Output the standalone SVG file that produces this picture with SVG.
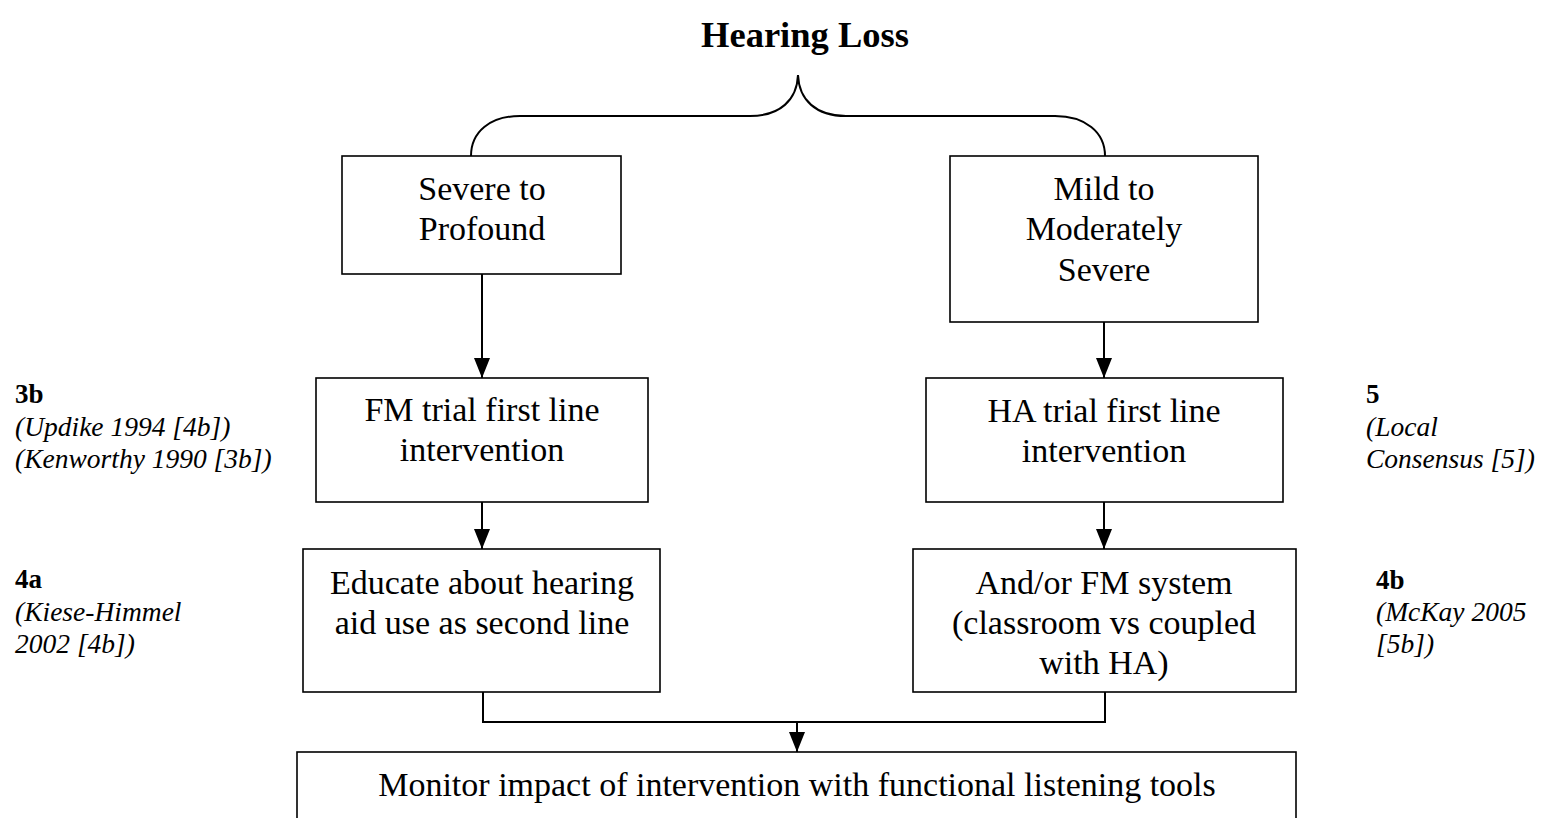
<svg xmlns="http://www.w3.org/2000/svg" width="1544" height="818" viewBox="0 0 1544 818">
<style>
.box{fill:#fff;stroke:#000;stroke-width:1.6}
.t{font-family:"Liberation Serif","Times New Roman",serif;font-size:34px;fill:#000;text-anchor:middle}
.title{font-family:"Liberation Serif","Times New Roman",serif;font-size:36.5px;font-weight:bold;fill:#000;text-anchor:middle}
.lv{font-family:"Liberation Serif","Times New Roman",serif;font-size:27px;font-weight:bold;fill:#000}
.ref{font-family:"Liberation Serif","Times New Roman",serif;font-size:27.5px;font-style:italic;fill:#000}
.ln{fill:none;stroke:#000;stroke-width:2}
</style>
<defs>
<marker id="arr" markerWidth="20" markerHeight="18" refX="20" refY="9" orient="auto" markerUnits="userSpaceOnUse" viewBox="0 0 20 18">
<path d="M0,1 L20,9 L0,17 Z" fill="#000"/>
</marker>
</defs>
<text class="title" x="805" y="47">Hearing Loss</text>
<g id="connectors">
<path class="ln" d="M471,156 C471,132 490,116 520,116 L750,116 C780,116 797,100 798,75 C799,100 816,116 846,116 L1055,116 C1085,116 1105,132 1105,156"/>
<path class="ln" d="M482,274 L482,378" marker-end="url(#arr)"/>
<path class="ln" d="M1104,322 L1104,378" marker-end="url(#arr)"/>
<path class="ln" d="M482,502 L482,549" marker-end="url(#arr)"/>
<path class="ln" d="M1104,502 L1104,549" marker-end="url(#arr)"/>
<path class="ln" d="M483,692 L483,722 L1105,722 L1105,692"/>
<path class="ln" d="M797,722 L797,752" marker-end="url(#arr)"/>
</g>
<g id="severe">
<rect class="box" x="342" y="156" width="279" height="118"/>
<text class="t" x="482" y="200">Severe to</text>
<text class="t" x="482" y="240">Profound</text>
</g>
<g id="mild">
<rect class="box" x="950" y="156" width="308" height="166"/>
<text class="t" x="1104" y="200">Mild to</text>
<text class="t" x="1104" y="240">Moderately</text>
<text class="t" x="1104" y="281">Severe</text>
</g>
<g id="fm-trial">
<rect class="box" x="316" y="378" width="332" height="124"/>
<text class="t" x="482" y="421">FM trial first line</text>
<text class="t" x="482" y="461">intervention</text>
</g>
<g id="ha-trial">
<rect class="box" x="926" y="378" width="357" height="124"/>
<text class="t" x="1104" y="422">HA trial first line</text>
<text class="t" x="1104" y="462">intervention</text>
</g>
<g id="educate">
<rect class="box" x="303" y="549" width="357" height="143"/>
<text class="t" x="482" y="594">Educate about hearing</text>
<text class="t" x="482" y="634">aid use as second line</text>
</g>
<g id="fm-system">
<rect class="box" x="913" y="549" width="383" height="143"/>
<text class="t" x="1104" y="594">And/or FM system</text>
<text class="t" x="1104" y="634">(classroom vs coupled</text>
<text class="t" x="1104" y="674">with HA)</text>
</g>
<g id="monitor">
<rect class="box" x="297" y="752" width="999" height="80"/>
<text class="t" x="797" y="796">Monitor impact of intervention with functional listening tools</text>
</g>
<g id="level-3b">
<text class="lv" x="15" y="403">3b</text>
<text class="ref" x="15" y="436">(Updike 1994 [4b])</text>
<text class="ref" x="15" y="468">(Kenworthy 1990 [3b])</text>
</g>
<g id="level-4a">
<text class="lv" x="15" y="588">4a</text>
<text class="ref" x="15" y="621">(Kiese-Himmel</text>
<text class="ref" x="15" y="653">2002 [4b])</text>
</g>
<g id="level-5">
<text class="lv" x="1366" y="403">5</text>
<text class="ref" x="1366" y="436">(Local</text>
<text class="ref" x="1366" y="468">Consensus [5])</text>
</g>
<g id="level-4b">
<text class="lv" x="1376" y="589">4b</text>
<text class="ref" x="1376" y="621">(McKay 2005</text>
<text class="ref" x="1376" y="653">[5b])</text>
</g>
</svg>
